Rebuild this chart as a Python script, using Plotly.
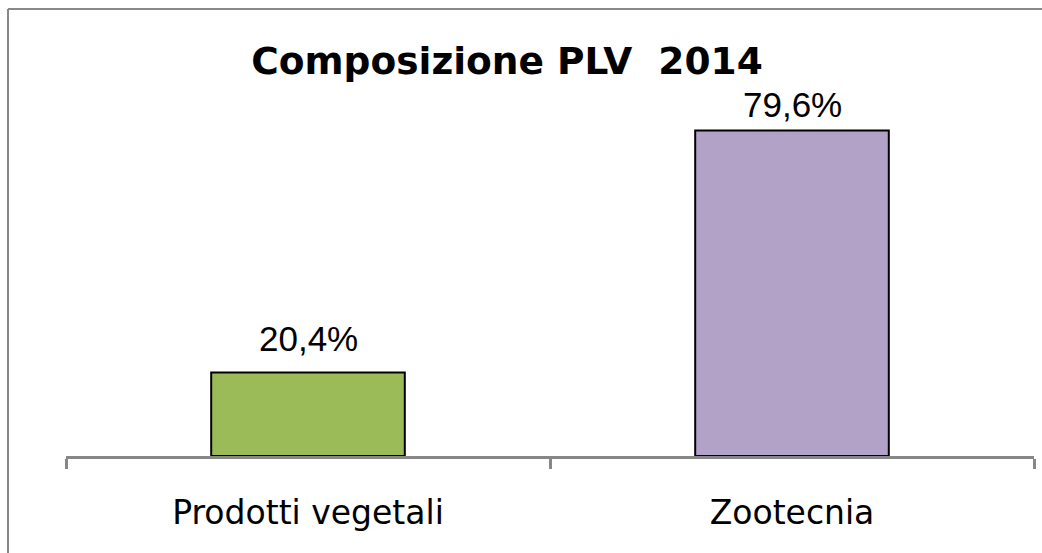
import plotly.graph_objects as go

categories = ["Prodotti vegetali", "Zootecnia"]
values = [20.4, 79.6]
value_labels = ["20,4%", "79,6%"]
colors = ["#9BBB59", "#B3A2C7"]
title_text = "Composizione PLV\u00a0 2014"

W, H = 1042, 553
L, R, T, B = 66, 8, 88, 97
pw = W - L - R
ph = H - T - B
px2x = lambda px: (px - L) / pw
py2y = lambda py: (H - B - py) / ph

fig = go.Figure()
fig.add_trace(go.Bar(
    x=categories, y=values,
    marker=dict(color=colors, line=dict(color="black", width=2)),
    width=0.4, hoverinfo="x+y",
))

label_shift = [13, 5]
for c, v, t, s in zip(categories, values, value_labels, label_shift):
    fig.add_annotation(x=c, y=v, text=t, showarrow=False, xanchor="center",
                       yanchor="bottom", yshift=s,
                       font=dict(size=35, color="black", family="Liberation Sans"))

fig.update_layout(
    width=W, height=H, margin=dict(l=L, r=R, t=T, b=B),
    paper_bgcolor="white", plot_bgcolor="white",
    showlegend=False,
    title=dict(text="<b>" + title_text + "</b>", x=507 / W, xanchor="center",
               y=1 - 61 / H, yanchor="middle",
               font=dict(size=37.5, color="black", family="DejaVu Sans")),
    xaxis=dict(showline=True, linecolor="#878787", linewidth=2.5,
               ticks="outside", tickson="boundaries", ticklen=10, tickwidth=2.5,
               tickcolor="#878787", ticklabelstandoff=26,
               tickfont=dict(size=33, color="black", family="DejaVu Sans"),
               showgrid=False, zeroline=False, fixedrange=True),
    yaxis=dict(range=[0, 90], visible=False, showgrid=False, zeroline=False,
               fixedrange=True),
    shapes=[
        dict(type="line", xref="paper", yref="paper", x0=px2x(8), x1=px2x(W + 5),
             y0=py2y(9), y1=py2y(9), line=dict(color="#888888", width=2)),
        dict(type="line", xref="paper", yref="paper", x0=px2x(8), x1=px2x(8),
             y0=py2y(9), y1=py2y(H + 5), line=dict(color="#888888", width=2)),
    ],
)
fig.write_html(
    "out.html",
    config={"displayModeBar": False},
    post_script="document.body.style.margin='0';document.body.style.overflow='hidden';",
)
